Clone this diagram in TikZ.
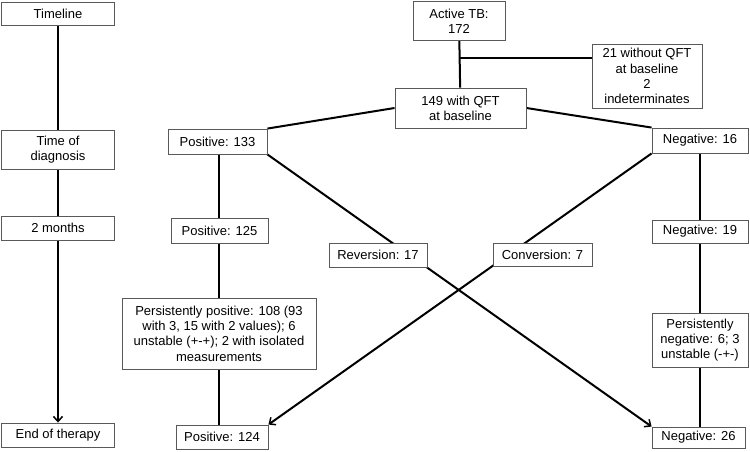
\documentclass[tikz,border=0pt]{standalone}
\usepackage{fontspec}
\setmainfont{Liberation Sans}
\usepackage{tikz}
\usetikzlibrary{arrows.meta,backgrounds}

\tikzset{
  box/.style={draw=black!65, line width=0.9pt, fill=white, align=center,
    inner sep=2pt, font=\fontsize{13}{15.3}\selectfont},
  link/.style={line width=2pt, black},
  tip/.style={-{Straight Barb[length=5pt,width=9pt,line width=1.5pt]}}
}

\begin{document}
\begin{tikzpicture}[x=1pt, y=-1pt]
\useasboundingbox (0,0) rectangle (750,451);

% Timeline column
\node[box, minimum width=113, minimum height=23] (timeline) at (58,13.5) {Timeline};
\node[box, minimum width=113, minimum height=39] (diag) at (58,149.5) {Time of\\diagnosis};
\node[box, minimum width=113, minimum height=24] (months) at (58,228) {2 months};
\node[box, minimum width=113, minimum height=24] (endther) at (58,435) {End of therapy};

% Top of the flow
\node[box, minimum width=92, minimum height=39] (active) at (459,21) {Active TB:\\172};
\node[box, minimum width=110, minimum height=64] (without) at (647,76) {21 without QFT\\at baseline\\2\\indeterminates};
\node[box, minimum width=131, minimum height=40] (qft) at (460.5,108) {149 with QFT\\at baseline};

% Positive branch
\node[box, minimum width=99, minimum height=25] (pos133) at (217.5,141.5) {Positive: 133};
\node[box, minimum width=97, minimum height=25] (pos125) at (219.5,230.5) {Positive: 125};
\node[box, minimum width=194, minimum height=71] (ppos) at (219,333.5)
  {Persistently positive: 108 (93\\with 3, 15 with 2 values); 6\\unstable (+-+); 2 with isolated\\measurements};
\node[box, minimum width=92, minimum height=24] (pos124) at (222,437) {Positive: 124};

% Negative branch
\node[box, minimum width=96, minimum height=25] (neg16) at (700,140.5) {Negative: 16};
\node[box, minimum width=96, minimum height=23] (neg19) at (700,231.5) {Negative: 19};
\node[box, minimum width=96, minimum height=54] (pneg) at (700,340) {Persistently\\negative: 6; 3\\unstable (-+-)};
\node[box, minimum width=93, minimum height=21] (neg26) at (698.5,437.5) {Negative: 26};

% Changes
\node[box, minimum width=98, minimum height=24] (rev) at (378,255) {Reversion: 17};
\node[box, minimum width=99, minimum height=23] (conv) at (542.5,254.5) {Conversion: 7};

\coordinate (branch) at (459,58);

\begin{pgfonlayer}{background}
  % timeline
  \draw[link] (timeline) -- (diag);
  \draw[link] (diag) -- (months);
  \draw[link, tip] (months) -- (endther);

  % top
  \draw[link] (active) -- (qft);
  \draw[link] (branch) -- (branch -| without.west);
  \draw[link] (qft.west) -- (pos133.north east);
  \draw[link] (qft.east) -- (neg16.north west);

  % columns
  \draw[link] (pos133.south -| ppos) -- (ppos.north |- pos125.north);
  \draw[link] (pos125.south -| ppos) -- (ppos.north);
  \draw[link] (ppos) -- (ppos |- pos124.north);
  \draw[link] (neg16) -- (neg19);
  \draw[link] (neg19) -- (pneg);
  \draw[link] (pneg) -- (pneg |- neg26.north);

  % crossing lines behind the change boxes
  \draw[link, tip] (pos133.south east) -- (neg26.north west);
  \draw[link, tip] (neg16.south west) -- (pos124.north east);
\end{pgfonlayer}
\end{tikzpicture}
\end{document}
